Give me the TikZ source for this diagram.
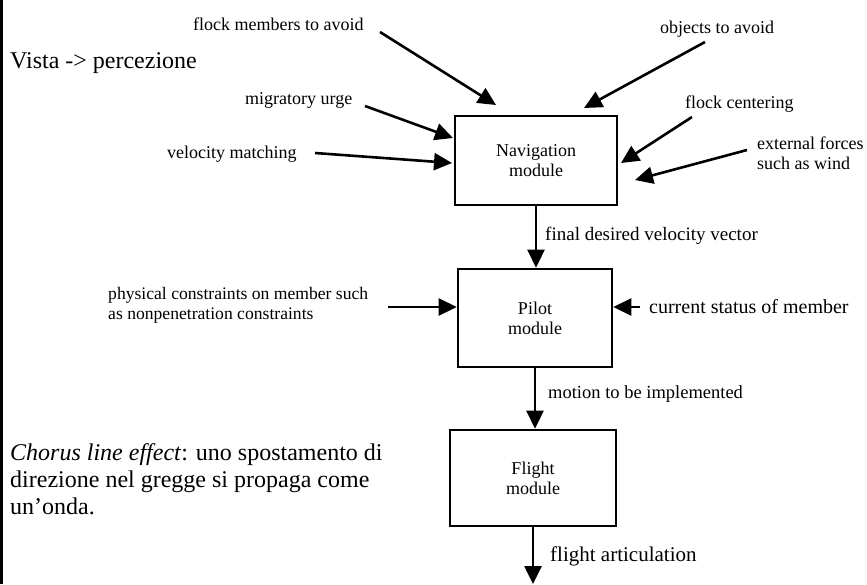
\documentclass[tikz,border=0pt]{standalone}
\usepackage{fontspec}
\setmainfont{Liberation Serif}
\usetikzlibrary{arrows.meta}
\begin{document}
\begin{tikzpicture}[x=1pt,y=-1pt,
  box/.style={draw,line width=2.6pt,inner sep=0pt,align=center,font=\fontsize{18}{20}\selectfont},
  lbl/.style={inner sep=0pt,font=\fontsize{18}{20}\selectfont},
  big/.style={inner sep=0pt,font=\fontsize{24}{27}\selectfont},
  arr/.style={line width=2.6pt,-{Triangle[length=18pt,width=17pt]}},
]
\useasboundingbox (0,0) rectangle (867,584);
\draw[line width=3pt] (1.5,0) -- (1.5,584);

% modules
\node[box,minimum width=162pt,minimum height=89pt] (nav) at (536,160.5) {Navigation\\module};
\node[box,minimum width=154pt,minimum height=98pt] (pilot) at (535,318) {Pilot\\module};
\node[box,minimum width=166pt,minimum height=96pt] (flight) at (533,478) {Flight\\module};

% labels
\node[big,anchor=base west] (vista) at (10,68) {Vista -> percezione};
\node[big,anchor=north west,align=left] (chorus) at (10,443) {\textit{Chorus line effect}: uno spostamento di\\direzione nel gregge si propaga come\\un’onda.};

\node[lbl,anchor=base west] (lflock) at (193,30) {flock members to avoid};
\node[lbl,anchor=base west] (lobj) at (660,33) {objects to avoid};
\node[lbl,anchor=base west] (lmig) at (245,104) {migratory urge};
\node[lbl,anchor=base west] (lvel) at (167,158) {velocity matching};
\node[lbl,anchor=base west] (lcent) at (685,108) {flock centering};
\node[lbl,anchor=west,align=left] (lext) at (757,153) {external forces\\such as wind};
\node[lbl,anchor=base west,font=\fontsize{19}{21}\selectfont] (lfinal) at (545,240) {final desired velocity vector};
\node[lbl,anchor=west,align=left,font=\fontsize{17.6}{20}\selectfont] (lphys) at (108,305) {physical constraints on member such\\as nonpenetration constraints};
\node[lbl,anchor=base west,font=\fontsize{20}{22}\selectfont] (lcur) at (649,313) {current status of member};
\node[lbl,anchor=base west,font=\fontsize{18.5}{20}\selectfont] (lmot) at (548,398) {motion to be implemented};
\node[lbl,anchor=base west,font=\fontsize{21}{22}\selectfont] (lart) at (550,561) {flight articulation};

% connector end points
\coordinate (s1) at (380,32);  \coordinate (t1) at (496,105);
\coordinate (s2) at (705,42);  \coordinate (t2) at (584,108);
\coordinate (s3) at (365,106); \coordinate (t3) at (453,138);
\coordinate (s4) at (315,153); \coordinate (t4) at (452,163);
\coordinate (s5) at (692,117); \coordinate (t5) at (621,163);
\coordinate (s6) at (747,150); \coordinate (t6) at (635,180);
\coordinate (s7) at (388,307);
\coordinate (s8) at (640,307);
\coordinate (out) at (533,584);

\draw[arr] (s1) -- (t1);
\draw[arr] (s2) -- (t2);
\draw[arr] (s3) -- (t3);
\draw[arr] (s4) -- (t4);
\draw[arr] (s5) -- (t5);
\draw[arr] (s6) -- (t6);
\draw[arr] (s7) -- (s7 -| pilot.west);
\draw[arr] (s8) -- (s8 -| pilot.east);
\draw[arr] (nav.south) -- (nav.south |- pilot.north);
\draw[arr] (pilot.south) -- (pilot.south |- flight.north);
\draw[arr] (flight.south) -- (out);
\end{tikzpicture}
\end{document}
